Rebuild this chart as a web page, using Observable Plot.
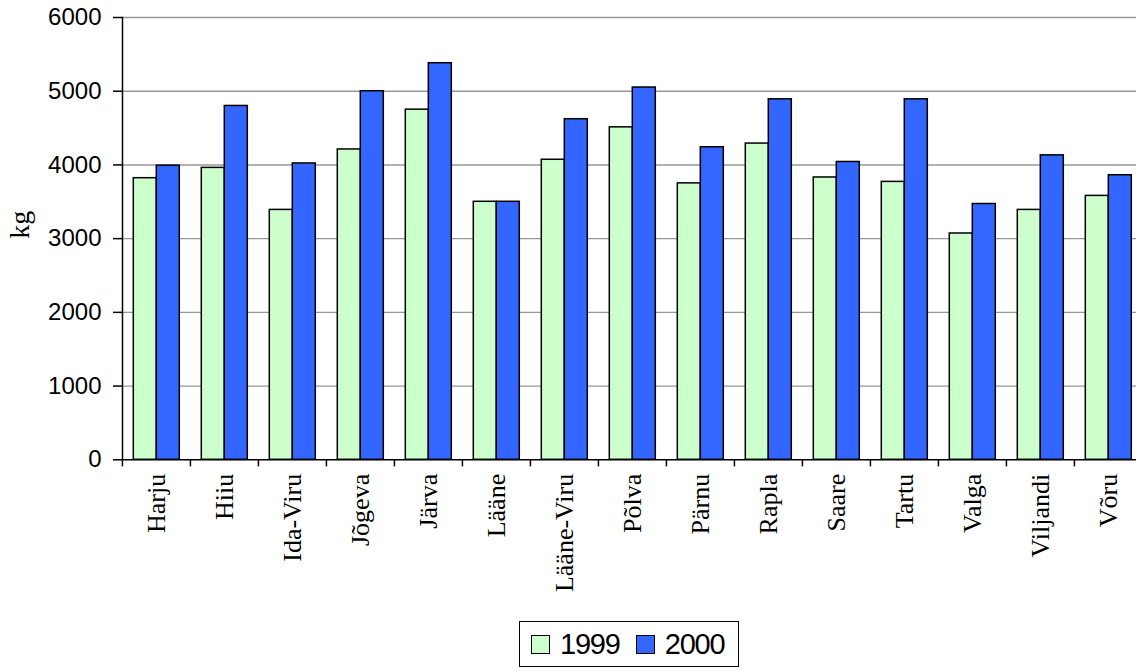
<!DOCTYPE html>
<html>
<head>
<meta charset="utf-8">
<script src="https://cdn.jsdelivr.net/npm/d3@7"></script>
<script src="https://cdn.jsdelivr.net/npm/@observablehq/plot@0.6"></script>
<style>
  html, body { margin: 0; padding: 0; background: #fff; overflow: hidden; }
  #chart svg { display: block; }
  .legend {
    display: inline-flex;
    align-items: center;
    margin: 21px 0 0 519px;
    padding: 4px 14px 4px 11px;
    border: 1.5px solid #000;
    font-family: "Liberation Sans", Arial, sans-serif;
    font-size: 29px;
    letter-spacing: -1.2px;
    line-height: 36px;
  }
  .legend .sw {
    display: inline-block;
    width: 17px; height: 17px;
    border: 1.5px solid #000;
    margin-right: 10px;
  }
  .legend .item { display: inline-flex; align-items: center; margin-right: 16px; }
  .legend .item:last-child { margin-right: 0; }
</style>
</head>
<body>
<div id="chart"></div>
<div id="legend"></div>
<script>
// Counties (maakonnad) and the two yearly series, in kg
const regions = ["Harju", "Hiiu", "Ida-Viru", "Jõgeva", "Järva", "Lääne", "Lääne-Viru",
                 "Põlva", "Pärnu", "Rapla", "Saare", "Tartu", "Valga", "Viljandi", "Võru"];
const years = ["1999", "2000"];
const values1999 = [3820, 3960, 3390, 4210, 4750, 3500, 4070, 4510, 3750, 4290, 3830, 3770, 3070, 3390, 3580];
const values2000 = [3990, 4800, 4020, 5000, 5380, 3500, 4620, 5050, 4240, 4890, 4040, 4890, 3470, 4130, 3860];
const yTicks = [0, 1000, 2000, 3000, 4000, 5000, 6000];
const gridTicks = [1000, 2000, 3000, 4000, 5000, 6000];
const yLabel = "kg";
const colors = ["#CCFFCC", "#3366FF"];

const data = regions.flatMap((region, i) => [
  {region, year: years[0], value: values1999[i]},
  {region, year: years[1], value: values2000[i]}
]);

// Plot area: the category band runs a little past the right edge of the page
const left = 120.7, right = 1142.9;
const band = (right - left) / regions.length;

const chart = Plot.plot({
  width: 1136,
  height: 600,
  marginLeft: left,
  marginRight: 0,
  marginTop: 17,
  marginBottom: 140.7,
  fx: {domain: regions, range: [left, right], paddingInner: 0, paddingOuter: 0, label: null},
  x: {domain: years, axis: null, paddingInner: 0, paddingOuter: 0.44},
  y: {domain: [0, 6000], label: null},
  color: {domain: years, range: colors},
  marks: [
    Plot.gridY(gridTicks, {stroke: "#999", strokeOpacity: 1, strokeWidth: 1.4}),
    Plot.barY(data, {fx: "region", x: "year", y: "value", fill: "year", stroke: "#000", strokeWidth: 1.5}),
    Plot.ruleY([0], {stroke: "#000", strokeWidth: 1.5}),
    Plot.frame({anchor: "left", facetAnchor: "left", stroke: "#000", strokeWidth: 1.5}),
    Plot.axisY({
      ticks: yTicks, tickFormat: "d", tickSize: 9, tickPadding: 12, label: null, facetAnchor: "left",
      fontFamily: "Liberation Sans, Arial, sans-serif", fontSize: 24, letterSpacing: "-1.8px",
      stroke: "#000", strokeWidth: 1.5, fill: "#000"
    }),
    // category boundary ticks
    Plot.axisFx({anchor: "bottom", tickSize: 7, tickFormat: () => "", dx: -band / 2, label: null, stroke: "#000", strokeWidth: 1.5}),
    // category names, read upwards
    Plot.axisFx({
      anchor: "bottom", tickSize: 0, tickPadding: 14, tickRotate: -90, label: null,
      fontFamily: "Liberation Serif, Times New Roman, serif", fontSize: 26, fill: "#000"
    }),
    Plot.text([yLabel], {
      frameAnchor: "left", dx: -102, rotate: -90, facetAnchor: "left",
      fontFamily: "Liberation Serif, Times New Roman, serif", fontSize: 28, fill: "#000"
    })
  ]
});
document.getElementById("chart").append(chart);

// Series legend below the chart
const legend = d3.select("#legend").append("div").attr("class", "legend");
years.forEach((y, i) => {
  const item = legend.append("span").attr("class", "item");
  item.append("span").attr("class", "sw").style("background", colors[i]);
  item.append("span").text(y);
});
</script>
</body>
</html>
